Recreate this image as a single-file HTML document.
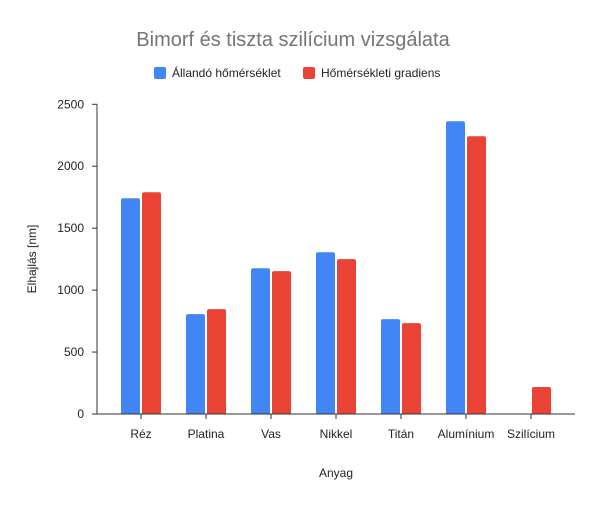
<!DOCTYPE html>
<html><head><meta charset="utf-8"><style>
body{margin:0;background:#fff;font-family:"Liberation Sans",Arial,sans-serif}
</style></head><body>
<svg id="c" width="601" height="507" xmlns="http://www.w3.org/2000/svg">
<rect width="601" height="507" fill="#fff"/>
<text x="293" y="46" text-anchor="middle" font-size="20" fill="#757575">Bimorf és tiszta szilícium vizsgálata</text>
<g>
<rect x="154" y="67" width="12" height="12" rx="2" fill="#4285f4"/>
<text x="172" y="77" font-size="12" fill="#222">Állandó hőmérséklet</text>
<rect x="303" y="67" width="12" height="12" rx="2" fill="#ea4335"/>
<text x="321" y="77" font-size="12" fill="#222">Hőmérsékleti gradiens</text>
</g>
<text transform="translate(36,259) rotate(-90)" text-anchor="middle" font-size="12" fill="#222">Elhajlás [nm]</text>
<text x="336" y="477" text-anchor="middle" font-size="12" fill="#222">Anyag</text>
<g id="g"></g>
</svg>
<script>
const categories=["Réz","Platina","Vas","Nikkel","Titán","Alumínium","Szilícium"];
const seriesAllando=[1742,806,1177,1306,766,2363,0];
const seriesGradiens=[1790,847,1153,1250,734,2242,218];
const yTicks=[0,500,1000,1500,2000,2500];
const NS="http://www.w3.org/2000/svg";
const g=document.getElementById('g');
const x0=97,x1=575,y0=414,yTop=104.3,yMax=2500;
const y=v=>y0-(y0-yTop)*v/yMax;
const xc=i=>141+65*i;
function mk(t,a){const e=document.createElementNS(NS,t);for(const k in a)e.setAttribute(k,a[k]);g.appendChild(e);return e;}
yTicks.forEach(t=>{
  const l=mk('line',{x1:92,x2:x0,y1:y(t),y2:y(t),stroke:'#333'});
  
  
  const tx=mk('text',{x:84,y:y(t)+4,'text-anchor':'end','font-size':12,fill:'#222'});
  tx.textContent=t;
  
  
});
function bar(xl,v,col,name){
  if(v<=0)return;
  const top=y(v),h=y0-top,r=Math.min(2,h/2);
  const p=mk('path',{d:`M${xl},${y0}V${top+r}Q${xl},${top} ${xl+r},${top}H${xl+19-r}Q${xl+19},${top} ${xl+19},${top+r}V${y0}Z`,fill:col});
  
  
}
categories.forEach((c,i)=>{
  bar(xc(i)-20,seriesAllando[i],'#4285f4','bar-allando-'+i);
  bar(xc(i)+1,seriesGradiens[i],'#ea4335','bar-gradiens-'+i);
  const tk=mk('line',{x1:xc(i),x2:xc(i),y1:y0,y2:y0+5,stroke:'#333'});
  
  
  const tx=mk('text',{x:xc(i),y:438,'text-anchor':'middle','font-size':12,fill:'#222'});
  tx.textContent=c;
  
  
});
const ax=mk('line',{x1:x0,x2:x0,y1:yTop,y2:y0,stroke:'#333'});


const bx=mk('line',{x1:x0,x2:x1,y1:y0,y2:y0,stroke:'#333'});


</script>
</body></html>
